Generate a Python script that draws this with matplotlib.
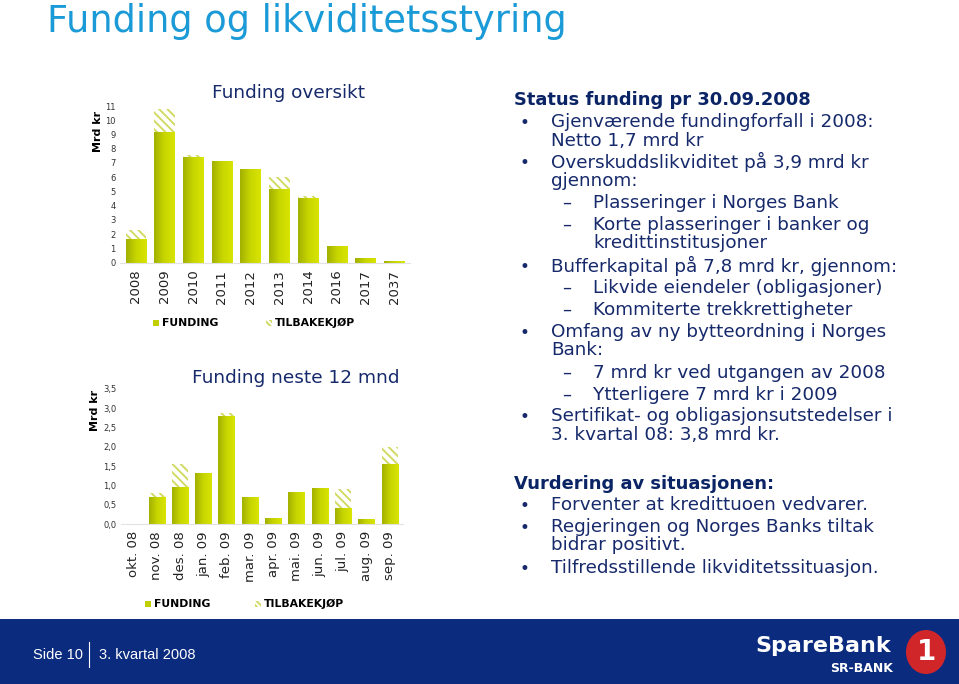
import numpy as np
import matplotlib

matplotlib.use("Agg")
import matplotlib.pyplot as plt
from matplotlib.colors import LinearSegmentedColormap
from matplotlib.patches import Rectangle, Ellipse

# data (mrd kr)
years = ["2008", "2009", "2010", "2011", "2012", "2013", "2014", "2016", "2017", "2037"]
years_funding = [1.65, 9.2, 7.4, 7.15, 6.6, 5.15, 4.55, 1.2, 0.33, 0.14]
years_buyback = [0.65, 1.6, 0.15, 0.0, 0.0, 0.9, 0.15, 0.0, 0.0, 0.0]

months = ["okt. 08", "nov. 08", "des. 08", "jan. 09", "feb. 09", "mar. 09",
          "apr. 09", "mai. 09", "jun. 09", "jul. 09", "aug. 09", "sep. 09"]
months_funding = [0.0, 0.71, 0.97, 1.32, 2.79, 0.70, 0.15, 0.83, 0.94, 0.41, 0.13, 1.55]
months_buyback = [0.0, 0.09, 0.58, 0.0, 0.09, 0.0, 0.0, 0.0, 0.0, 0.5, 0.0, 0.44]

W, H = 959, 684
NAVY = "#16296b"
TITLE_BLUE = "#1a9ad6"
BAR_MID = "#c2cf00"
HATCH = "#d2da62"
bar_cmap = LinearSegmentedColormap.from_list("bar", ["#a2b000", "#c8d600", "#d8e400"])

plt.rcParams["font.family"] = "DejaVu Sans"
plt.rcParams["hatch.linewidth"] = 1.4

fig = plt.figure(figsize=(W / 100, H / 100), dpi=100)


def fx(x):
    return x / W


def fy(y):
    return 1 - y / H


def panel(left, right, bottom, top, labels, funding, buyback, ymax, yticks, ylabels):
    ax = fig.add_axes([fx(left), fy(bottom), fx(right) - fx(left), fy(top) - fy(bottom)])
    x = np.arange(len(labels))
    bars = ax.bar(x, funding, width=0.71, color=BAR_MID, linewidth=0, zorder=2)
    ax.bar(x, buyback, bottom=funding, width=0.71, facecolor="white",
           edgecolor=HATCH, hatch="\\\\\\\\", linewidth=0, zorder=2)

    grad = np.linspace(0, 1, 64).reshape(1, -1)
    for b in bars:
        if b.get_height() <= 0:
            continue
        x0, y0 = b.get_x(), b.get_y()
        im = ax.imshow(grad, cmap=bar_cmap, aspect="auto", zorder=2.5,
                       extent=[x0, x0 + b.get_width(), y0, y0 + b.get_height()])
        im.set_clip_path(b)

    ax.set_xlim(-0.55, len(labels) - 0.45)
    ax.set_ylim(0, ymax)
    ax.set_xticks(x, labels, rotation=90, fontsize=9.5, color="#222222")
    ax.set_yticks(yticks, ylabels, fontsize=6, color="#333333")
    ax.tick_params(length=0, pad=3)
    ax.tick_params(axis="x", pad=5)
    for side in ["top", "right", "left"]:
        ax.spines[side].set_visible(False)
    ax.spines["bottom"].set_color("#e2e2e2")
    ax.spines["bottom"].set_linewidth(0.8)
    return ax


# top panel: funding oversikt
panel(120, 410, 262.7, 106, years, years_funding, years_buyback, 11,
      range(0, 12), [str(v) for v in range(0, 12)])
fig.text(fx(98), fy(131), "Mrd kr", rotation=90, fontsize=8, fontweight="bold",
         ha="center", va="center")
fig.text(fx(289), fy(93), "Funding oversikt", fontsize=13.3, color=NAVY,
         ha="center", va="center")

# bottom panel: funding neste 12 mnd
yt = np.arange(0, 3.51, 0.5)
panel(120.7, 402.6, 524.3, 388.7, months, months_funding, months_buyback, 3.5,
      yt, [f"{v:.1f}".replace(".", ",") for v in yt])
fig.text(fx(95), fy(410), "Mrd kr", rotation=90, fontsize=8, fontweight="bold",
         ha="center", va="center")
fig.text(fx(296), fy(378), "Funding neste 12 mnd", fontsize=13.3, color=NAVY,
         ha="center", va="center")


def legend(x_fund, x_buy, y):
    fig.patches.append(Rectangle((fx(x_fund - 3), fy(y + 3)), fx(6), 6 / H,
                                 transform=fig.transFigure, facecolor=BAR_MID, linewidth=0))
    fig.patches.append(Rectangle((fx(x_buy - 3), fy(y + 3)), fx(6), 6 / H,
                                 transform=fig.transFigure, facecolor="white",
                                 edgecolor=HATCH, hatch="\\\\\\\\\\\\", linewidth=0))
    fig.text(fx(x_fund + 6), fy(y), "FUNDING", fontsize=7.8, fontweight="bold",
             ha="left", va="center")
    fig.text(fx(x_buy + 6), fy(y), "TILBAKEKJØP", fontsize=7.8, fontweight="bold",
             ha="left", va="center")


legend(156, 269, 323)
legend(148, 258, 604)

# slide title
fig.text(fx(47), fy(22), "Funding og likviditetsstyring", fontsize=26.5,
         color=TITLE_BLUE, ha="left", va="center")

# right-hand text
lines = [
    (514, 100, "Status funding pr 30.09.2008", "head"),
    (551, 122, "Gjenværende fundingforfall i 2008:", "bullet"),
    (551, 141, "Netto 1,7 mrd kr", "text"),
    (551, 162, "Overskuddslikviditet på 3,9 mrd kr", "bullet"),
    (551, 181, "gjennom:", "text"),
    (593, 203, "Plasseringer i Norges Bank", "dash"),
    (593, 225, "Korte plasseringer i banker og", "dash"),
    (593, 243, "kredittinstitusjoner", "text"),
    (551, 266, "Bufferkapital på 7,8 mrd kr, gjennom:", "bullet"),
    (593, 288, "Likvide eiendeler (obligasjoner)", "dash"),
    (593, 310, "Kommiterte trekkrettigheter", "dash"),
    (551, 332, "Omfang av ny bytteordning i Norges", "bullet"),
    (551, 350, "Bank:", "text"),
    (593, 373, "7 mrd kr ved utgangen av 2008", "dash"),
    (593, 395, "Ytterligere 7 mrd kr i 2009", "dash"),
    (551, 416, "Sertifikat- og obligasjonsutstedelser i", "bullet"),
    (551, 435, "3. kvartal 08: 3,8 mrd kr.", "text"),
    (514, 484, "Vurdering av situasjonen:", "head"),
    (551, 505, "Forventer at kredittuoen vedvarer.", "bullet"),
    (551, 527, "Regjeringen og Norges Banks tiltak", "bullet"),
    (551, 545, "bidrar positivt.", "text"),
    (551, 568, "Tilfredsstillende likviditetssituasjon.", "bullet"),
]
for x, y, s, kind in lines:
    if kind == "head":
        fig.text(fx(x), fy(y), s, fontsize=12.9, fontweight="bold", color="#0b2466",
                 ha="left", va="center")
        continue
    fig.text(fx(x), fy(y), s, fontsize=13.2, color=NAVY, ha="left", va="center")
    if kind == "bullet":
        fig.text(fx(519), fy(y + 1), "•", fontsize=12, color=NAVY, ha="left", va="center")
    elif kind == "dash":
        fig.text(fx(562), fy(y), "–", fontsize=13, color=NAVY, ha="left", va="center")

# footer band
fig.patches.append(Rectangle((0, 0), 1, fy(619), transform=fig.transFigure,
                             facecolor="#0b2b7e", linewidth=0))
footer_font = ["Liberation Sans", "DejaVu Sans"]
fig.text(fx(33), fy(655), "Side 10", fontsize=10.5, color="white", family=footer_font,
         ha="left", va="center")
fig.text(fx(99), fy(655), "3. kvartal 2008", fontsize=10.5, color="white",
         family=footer_font, ha="left", va="center")
fig.lines.append(plt.Line2D([fx(89), fx(89)], [fy(642), fy(667)],
                            transform=fig.transFigure, color="white", linewidth=0.8))

# logo
fig.text(fx(891), fy(646), "SpareBank", fontsize=16, fontweight="bold", color="white",
         ha="right", va="center")
fig.text(fx(893), fy(669), "SR-BANK", fontsize=9, fontweight="bold", color="white",
         ha="right", va="center")
fig.patches.append(Ellipse((fx(926), fy(652)), 40 / W, 44 / H, transform=fig.transFigure,
                           facecolor="#d0262a", linewidth=0))
fig.text(fx(926), fy(652), "1", fontsize=20, fontweight="bold", color="white",
         ha="center", va="center")

plt.savefig("out.png", dpi=100)
plt.close()
